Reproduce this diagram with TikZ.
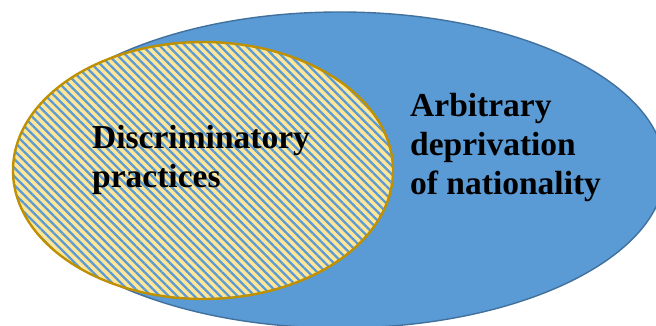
\documentclass[tikz,border=0pt]{standalone}
\usepackage{fontspec}
\setmainfont{Liberation Serif}
\usetikzlibrary{patterns.meta}

\definecolor{setblue}{HTML}{5A9AD5}
\definecolor{setedge}{HTML}{41719C}
\definecolor{subfill}{HTML}{FFE699}
\definecolor{subedge}{HTML}{BF9000}

\tikzset{
  outerset/.style={fill=setblue, draw=setedge, line width=1.4pt},
  innerfill/.style={fill=subfill},
  innerhatch/.style={pattern={Lines[angle=-45, distance=6.1pt, line width=2.3pt]},
                     pattern color=setblue},
  inneredge/.style={draw=subedge, line width=2.4pt},
  setlabel/.style={font=\fontsize{33.5}{39}\selectfont\bfseries, align=left,
                   anchor=base west, inner sep=0pt, text=black}
}

\begin{document}
\begin{tikzpicture}[x=1pt, y=-1pt]
  \useasboundingbox (0,0) rectangle (656,326);
  \clip (0,0) rectangle (656,326);

  % the wider set: arbitrary deprivation of nationality
  \path[outerset] (340,170) ellipse [x radius=325, y radius=158];
  \coordinate (outer) at (340,170);

  % the subset: discriminatory practices (hatched)
  \path[innerfill] (203,170.5) ellipse [x radius=190, y radius=128.5];
  \path[innerhatch] (203,170.5) ellipse [x radius=190, y radius=128.5];
  \path[inneredge] (203,170.5) ellipse [x radius=190, y radius=128.5];
  \coordinate (inner) at (203,170.5);

  % anchors sit on the baseline of each label's last line
  \node[setlabel] (disc) at (92,187) {Discriminatory\\practices};
  \node[setlabel] (arb) at (410,194) {Arbitrary\\deprivation\\of nationality};
\end{tikzpicture}
\end{document}
